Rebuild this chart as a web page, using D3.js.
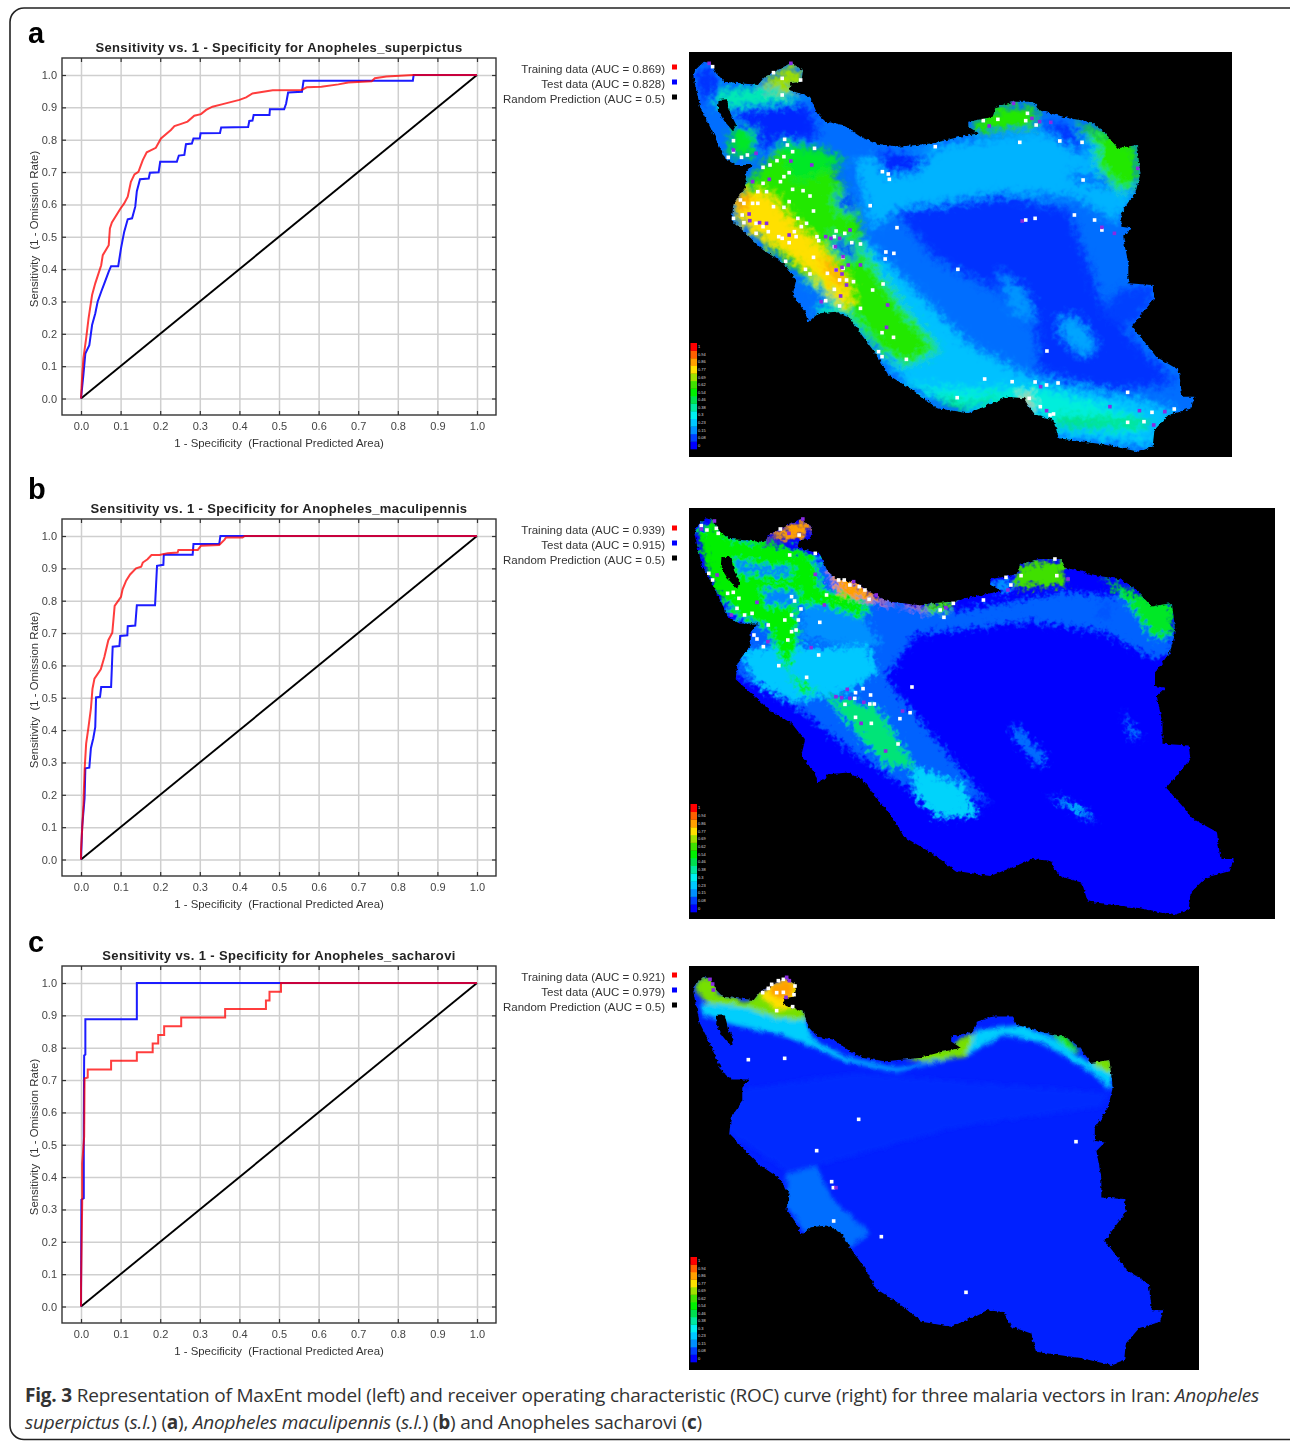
<!DOCTYPE html>
<meta charset="utf-8">

<body style="margin:0;background:#fff">
    <!-- Load d3.js -->
    <script src="https://d3js.org/d3.v7.min.js"></script>

    <div id="fig"></div>

    <script>
        // ROC curves: [1 - specificity, sensitivity]
        const trainA = [[0,0],[.003,.072],[.006,.124],[.013,.186],[.019,.247],[.028,.32],[.036,.356],[.051,.412],[.055,.443],[.07,.474],[.073,.526],[.078,.544],[.099,.586],[.109,.603],[.118,.624],[.126,.67],[.135,.693],[.145,.701],[.156,.737],[.166,.761],[.189,.775],[.202,.804],[.227,.83],[.236,.842],[.253,.849],[.269,.856],[.286,.874],[.303,.879],[.316,.892],[.332,.902],[.358,.91],[.4,.923],[.417,.931],[.433,.943],[.484,.953],[.557,.954],[.57,.962],[.607,.964],[.65,.971],[.675,.977],[.734,.981],[.742,.99],[.771,.995],[.838,1],[1,1]]
        const testA = [[0,0],[.006,.072],[.011,.139],[.021,.165],[.028,.227],[.036,.263],[.042,.299],[.051,.33],[.059,.356],[.07,.392],[.076,.409],[.094,.409],[.101,.464],[.109,.515],[.118,.554],[.129,.557],[.137,.593],[.141,.641],[.149,.678],[.171,.68],[.174,.698],[.196,.699],[.2,.732],[.242,.732],[.247,.751],[.261,.753],[.265,.786],[.28,.788],[.284,.804],[.3,.804],[.302,.82],[.351,.821],[.354,.838],[.422,.839],[.425,.858],[.433,.859],[.436,.876],[.476,.876],[.477,.894],[.513,.894],[.518,.912],[.523,.946],[.558,.948],[.562,.982],[.838,.982],[.84,1],[1,1]]
        const trainB = [[0,0],[0,.029],[.003,.096],[.006,.168],[.009,.276],[.013,.358],[.019,.41],[.025,.466],[.029,.528],[.034,.559],[.05,.588],[.059,.626],[.069,.678],[.079,.701],[.085,.784],[.101,.812],[.105,.835],[.114,.862],[.124,.881],[.139,.9],[.152,.905],[.156,.918],[.168,.928],[.178,.941],[.198,.941],[.219,.947],[.244,.949],[.246,.957],[.295,.957],[.303,.97],[.349,.972],[.362,.988],[.366,.995],[.408,.995],[.413,1],[1,1]]
        const testB = [[0,0],[.003,.101],[.009,.189],[.011,.282],[.021,.284],[.025,.344],[.031,.375],[.036,.409],[.038,.501],[.048,.503],[.051,.533],[.076,.533],[.08,.658],[.097,.66],[.099,.691],[.117,.693],[.118,.721],[.137,.723],[.141,.786],[.187,.786],[.192,.908],[.208,.911],[.209,.942],[.282,.942],[.284,.975],[.349,.975],[.352,1],[1,1]]
        const trainC = [[0,0],[0,.057],[.003,.32],[.003,.443],[.008,.526],[.009,.705],[.017,.708],[.017,.733],[.076,.733],[.076,.76],[.141,.76],[.141,.786],[.181,.786],[.181,.813],[.195,.813],[.195,.839],[.21,.839],[.21,.866],[.253,.866],[.253,.893],[.364,.893],[.364,.92],[.467,.92],[.467,.946],[.476,.946],[.476,.973],[.505,.973],[.505,1],[1,1]]
        const testC = [[0,0],[.001,.33],[.007,.335],[.007,.552],[.008,.776],[.011,.779],[.011,.888],[.141,.888],[.141,1],[1,1]]
        const randomLine = [[0,0],[1,1]]

        const xTicks = [0,.1,.2,.3,.4,.5,.6,.7,.8,.9,1]
        const yTicks = [0,.1,.2,.3,.4,.5,.6,.7,.8,.9,1]
        const speciesNames = ["Anopheles_superpictus", "Anopheles_maculipennis", "Anopheles_sacharovi"]
        const panelLetters = ["a", "b", "c"]
        const aucTrain = ["0.869", "0.939", "0.921"]
        const aucTest = ["0.828", "0.915", "0.979"]

        // map legend
        const legendValues = [0,.08,.15,.23,.3,.38,.46,.54,.62,.69,.77,.86,.94,1]
        const legendLabels = ["0","0.08","0.15","0.23","0.3","0.38","0.46","0.54","0.62","0.69","0.77","0.86","0.94","1"]
        const legendColors = ["#0000ff","#0040ff","#0090ff","#00c8ff","#00f0f0","#00e8a0","#00e050","#00f000","#40e000","#a0e000","#ffe000","#ffa000","#ff6000","#ff0000"]

        // Iran outline in crop units of the first map
        const iranOutline = [[40,35],[60,40],[75,70],[100,95],[195,105],[215,80],[270,50],[290,38],[325,60],[320,95],[290,100],[285,120],[345,140],[365,190],[390,215],[440,225],[490,260],[530,280],[600,290],[700,280],[770,262],[830,250],[800,230],[800,215],[870,200],[880,170],[930,155],[990,155],[1000,180],[1090,205],[1150,215],[1190,245],[1230,295],[1285,285],[1295,370],[1280,430],[1240,490],[1240,530],[1270,535],[1245,560],[1260,640],[1260,700],[1330,705],[1335,745],[1270,830],[1310,880],[1340,920],[1405,960],[1415,1040],[1450,1040],[1440,1075],[1375,1095],[1335,1140],[1330,1190],[1290,1205],[1200,1185],[1060,1165],[1045,1110],[985,1090],[960,1045],[910,1040],[870,1060],[800,1090],[710,1075],[640,1020],[570,975],[540,920],[490,850],[460,805],[420,785],[370,790],[340,815],[330,785],[295,735],[305,690],[270,640],[210,600],[160,550],[120,510],[125,460],[160,410],[160,370],[180,345],[130,345],[100,325],[80,280],[55,225],[30,175],[18,120],[10,80],[15,60]]
        const urmiaLake = [[82,150],[106,148],[116,190],[133,225],[123,243],[98,212],[80,180]]

        // suitability patches [value, polygon] per map, crop units of that map
        const heatA = [
            [.2, [[470,330],[700,290],[1000,240],[1280,300],[1280,420],[1230,520],[1100,440],[900,430],[600,480],[520,540]]],
            [.22, [[470,540],[620,690],[800,880],[1000,990],[1300,1050],[1400,1080],[1330,1190],[1060,1165],[985,1090],[800,1090],[640,1020],[490,850],[300,650]]],
            [.32, [[600,1000],[800,1020],[1000,1010],[1300,1100],[1300,1150],[1060,1130],[950,1060],[800,1070]]],
            [.06, [[590,480],[900,440],[1090,480],[1130,600],[1180,750],[1300,900],[1400,1000],[1200,1020],[1000,960],[1000,850],[880,720],[700,620]]],
            [.08, [[1230,720],[1330,705],[1335,745],[1270,830],[1180,800]]],
            [.18, [[1060,800],[1120,810],[1170,890],[1130,920],[1070,860]]],
            [.16, [[880,660],[960,720],[1000,820],[930,790]]],
            [.05, [[130,170],[340,160],[370,260],[260,280],[210,300],[120,180]]],
            [.05, [[530,310],[700,310],[640,370],[560,370]]],
            [.06, [[10,70],[60,50],[90,130],[40,160]]],
            [.12, [[295,700],[370,690],[420,780],[340,810],[300,750]]],
            [.36, [[360,780],[420,760],[440,800],[380,805]]],
            [.36, [[80,120],[200,110],[340,150],[130,175],[70,170]]],
            [.58, [[130,440],[250,300],[400,350],[480,470],[500,600],[620,780],[720,900],[620,950],[540,900],[470,810],[280,640],[130,510]]],
            [.5, [[120,230],[190,240],[185,320],[110,320]]],
            [.5, [[250,270],[390,300],[450,340],[300,400]]],
            [.77, [[120,470],[160,420],[230,430],[300,520],[380,590],[450,680],[470,760],[440,770],[360,680],[280,610],[150,530]]],
            [.86, [[125,450],[160,420],[175,450],[150,490]]],
            [.86, [[370,620],[410,640],[450,700],[420,700]]],
            [.06, [[420,430],[470,440],[470,490],[430,480]]],
            [.08, [[400,560],[470,580],[480,630],[430,610]]],
            [.58, [[810,220],[880,170],[990,170],[1000,230],[820,250]]],
            [.06, [[1000,225],[1090,225],[1150,320],[1090,290]]],
            [.06, [[1095,365],[1220,395],[1200,410],[1095,385]]],
            [.58, [[1100,210],[1190,250],[1285,290],[1290,400],[1240,430],[1170,350],[1170,290]]],
            [.69, [[200,100],[290,45],[325,65],[320,95],[280,130],[220,110]]],
            [.86, [[950,1030],[975,1040],[985,1085],[965,1060]]],
            [.44, [[1050,1100],[1330,1110],[1320,1130],[1060,1130]]],
            [.44, [[700,1040],[800,1060],[900,1030],[860,1060],[760,1080]]]
        ]
        const heatB = [
            [.11, [[20,60],[340,150],[500,280],[700,320],[1000,260],[1280,290],[1285,450],[1230,460],[1100,380],[900,350],[600,390],[520,520],[650,700],[800,900],[720,860],[620,880],[430,740],[300,620],[120,510],[130,440],[160,380],[100,330]]],
            [.23, [[130,440],[240,420],[340,430],[470,420],[500,500],[420,560],[280,590],[180,540]]],
            [.25, [[590,780],[720,840],[770,930],[660,940],[600,880]]],
            [.25, [[950,870],[1030,900],[1080,950],[1040,930]]],
            [.12, [[860,650],[950,760],[930,790],[860,700]]],
            [.13, [[1150,620],[1200,700],[1170,700]]],
            [.15, [[300,280],[460,340],[510,420],[420,420],[300,400]]],
            [.54, [[20,80],[60,45],[110,100],[200,110],[330,150],[350,250],[480,300],[460,340],[350,300],[280,300],[290,400],[260,500],[340,560],[300,570],[250,480],[200,360],[130,340],[60,250],[40,170]]],
            [.14, [[120,165],[210,185],[280,190],[260,215],[130,205]]],
            [.14, [[195,250],[290,260],[270,300],[200,300]]],
            [.42, [[360,570],[500,610],[560,720],[600,790],[520,780],[440,680]]],
            [.62, [[620,300],[700,285],[690,320],[630,320]]],
            [.62, [[870,180],[990,165],[1000,240],[860,250]]],
            [.5, [[1090,210],[1190,270],[1285,295],[1285,390],[1230,400],[1170,300]]],
            [.1, [[1090,290],[1130,300],[1110,350],[1080,340]]],
            [.15, [[800,225],[860,225],[850,260],[810,260]]],
            [.86, [[200,100],[250,70],[300,45],[320,65],[300,100],[240,100]]],
            [.86, [[370,200],[470,250],[500,280],[640,320],[600,300],[500,290],[400,270]]]
        ]
        const heatC = [
            [.055, [[60,400],[500,340],[1260,400],[1230,440],[800,500],[300,640],[120,520]]],
            [.12, [[290,640],[380,620],[430,720],[540,820],[480,860],[420,820],[350,820],[290,740]]],
            [.24, [[30,130],[190,140],[340,170],[370,240],[480,295],[620,325],[800,290],[860,210],[1000,195],[1100,240],[1200,310],[1265,330],[1265,390],[1200,335],[1060,250],[940,225],[830,285],[620,335],[470,305],[340,250],[270,225],[130,195],[40,165]]],
            [.66, [[30,50],[70,55],[85,100],[170,125],[210,95],[325,65],[350,180],[260,175],[180,145],[50,130],[15,90]]],
            [.66, [[640,290],[720,265],[790,262],[810,235],[855,220],[825,290],[700,305]]],
            [.58, [[1070,210],[1130,230],[1175,280],[1130,265]]],
            [.66, [[1200,295],[1265,295],[1270,345],[1210,315]]],
            [.77, [[210,100],[240,75],[290,55],[315,70],[320,110],[310,140],[260,150],[220,115]]],
            [.86, [[235,85],[290,60],[312,80],[300,115],[260,115]]]
        ]

        // occurrence points per map, crop units
        const trainPtsA = [[65,50],[240,68],[265,85],[318,90],[265,135],[125,272],[125,305],[110,322],[148,322],[165,315],[210,352],[230,345],[250,332],[270,320],[272,268],[280,285],[295,305],[358,295],[285,368],[270,380],[260,395],[210,400],[195,425],[220,425],[345,438],[325,422],[295,418],[285,455],[145,450],[155,460],[180,460],[195,460],[240,470],[270,472],[150,495],[125,505],[155,518],[190,520],[210,530],[225,545],[190,550],[255,560],[285,578],[265,565],[310,505],[335,520],[320,530],[300,545],[305,560],[355,483],[365,560],[370,572],[420,543],[415,560],[445,550],[465,578],[490,582],[415,590],[440,622],[275,634],[355,622],[332,658],[345,672],[395,670],[420,660],[440,655],[430,690],[450,690],[470,695],[415,718],[525,720],[555,702],[390,752],[430,768],[490,775],[552,848],[585,862],[542,905],[552,920],[622,928],[553,365],[570,372],[573,388],[705,290],[885,208],[843,212],[948,277],[965,212],[970,190],[995,225],[1063,273],[1127,277],[1130,390],[518,467],[595,533],[563,606],[586,610],[561,627],[770,658],[992,505],[965,510],[1105,495],[1163,510],[1184,540],[1026,903],[847,987],[926,995],[992,996],[1025,1005],[1058,999],[1258,1027],[768,1043],[975,1045],[1007,1070],[1045,1092],[1035,1095],[1328,1087],[1258,1117],[1305,1115],[1392,1077]]
        const testPtsA = [[55,40],[290,40],[125,300],[190,310],[290,333],[350,345],[228,388],[180,395],[170,492],[172,512],[200,518],[220,520],[285,555],[390,560],[405,565],[430,565],[418,590],[460,540],[440,620],[455,645],[490,645],[420,660],[437,652],[437,672],[450,705],[433,738],[377,755],[568,765],[565,832],[930,160],[860,228],[983,205],[1005,215],[1037,217],[1287,355],[955,513],[1184,532],[1220,550],[1008,1010],[1025,1082],[1207,1070],[1292,1082],[1365,1085],[1333,1125]]
        const trainPtsB = [[30,62],[45,75],[70,70],[75,85],[50,205],[60,225],[240,72],[265,150],[290,90],[333,145],[395,225],[410,225],[450,245],[465,255],[425,240],[100,265],[115,262],[130,280],[125,310],[145,330],[165,325],[270,275],[278,288],[295,312],[270,330],[288,345],[252,345],[208,360],[345,352],[282,375],[270,380],[260,405],[170,390],[178,402],[195,425],[236,482],[310,517],[342,450],[363,270],[476,283],[675,337],[665,315],[700,295],[780,285],[840,217],[880,212],[853,240],[970,162],[975,212],[460,551],[480,570],[440,563],[438,580],[412,598],[478,597],[490,597],[590,546],[585,623],[558,641],[440,637],[482,655],[553,717]]
        const testPtsB = [[65,48],[300,42],[30,72],[72,210],[263,85],[435,230],[495,270],[178,292],[110,330],[357,300],[333,208],[680,308],[845,255],[1005,222],[207,410],[322,428],[418,553],[403,578],[425,580],[462,592],[388,575],[565,618],[455,655],[520,738]]
        const trainPtsC = [[175,299],[284,295],[506,478],[380,572],[425,665],[431,783],[574,830],[1158,545],[828,997],[245,73],[265,62],[280,58],[235,85],[218,98],[260,98],[315,78],[280,97],[312,104],[260,152],[308,140],[430,683]]
        const testPtsC = [[60,58],[68,72],[70,90],[290,52],[298,62],[288,112],[438,683]]

        const W = 1290, H = 1441

        var svg = d3.select("div#fig")
            .append("svg")
            .attr("width", W)
            .attr("height", H)
            .style("display", "block")
            .style("font-family", "'Liberation Sans', Arial, sans-serif")

        // rounded page frame, runs off the right and bottom edges
        svg.append("rect")
            .attr("x", 10).attr("y", 8)
            .attr("width", 1300).attr("height", 1431.5)
            .attr("rx", 14)
            .attr("fill", "none")
            .attr("stroke", "#222")
            .attr("stroke-width", 1.6)

        var defs = svg.append("defs")

        // slight softness of the scanned figure
        defs.append("filter").attr("id", "scan")
            .append("feGaussianBlur").attr("stdDeviation", 0.35)

        // rough raster look: blur the patches, then shake them with noise
        function roughFilter(id, blur, freq, amount) {
            var f = defs.append("filter").attr("id", id)
                .attr("filterUnits", "userSpaceOnUse")
                .attr("x", 680).attr("y", 40).attr("width", 610).attr("height", 1340)
            f.append("feGaussianBlur").attr("in", "SourceGraphic").attr("stdDeviation", blur).attr("result", "b")
            f.append("feTurbulence").attr("type", "fractalNoise").attr("baseFrequency", freq).attr("numOctaves", 2).attr("seed", 4).attr("result", "n")
            f.append("feDisplacementMap").attr("in", "b").attr("in2", "n").attr("scale", amount)
                .attr("xChannelSelector", "R").attr("yChannelSelector", "G")
        }
        roughFilter("roughA", 4, 0.16, 16)
        roughFilter("roughB", 2.4, 0.2, 18)
        roughFilter("roughC", 2, 0.1, 5)
        roughFilter("edge", 0.3, 0.3, 4)

        function drawRoc(i, top, letterY, train, test) {
            const x = d3.scaleLinear().domain([0, 1]).range([81, 477])
            const y = d3.scaleLinear().domain([0, 1]).range([top + 340.5, top + 17])
            const left = 62, right = 496, bottom = top + 357

            var g = svg.append("g").attr("filter", "url(#scan)")

            g.append("text")
                .attr("x", 279).attr("y", top - 6)
                .attr("text-anchor", "middle")
                .attr("font-size", 13).attr("font-weight", "bold")
                .attr("letter-spacing", 0.38)
                .attr("fill", "#222")
                .text("Sensitivity vs. 1 - Specificity for " + speciesNames[i])

            g.append("rect")
                .attr("x", left).attr("y", top)
                .attr("width", right - left).attr("height", bottom - top)
                .attr("fill", "#fff")

            // grid
            g.append("g").attr("transform", `translate(0,${bottom})`)
                .call(d3.axisBottom(x).tickValues(xTicks).tickSize(top - bottom).tickFormat(""))
                .call(s => s.select(".domain").remove())
                .selectAll("line").attr("stroke", "#cfcfcf").attr("stroke-width", 1.5)
            g.append("g").attr("transform", `translate(${left},0)`)
                .call(d3.axisLeft(y).tickValues(yTicks).tickSize(left - right).tickFormat(""))
                .call(s => s.select(".domain").remove())
                .selectAll("line").attr("stroke", "#cfcfcf").attr("stroke-width", 1.5)

            // tick labels outside the frame, tick marks inside
            var xAxis = g.append("g").attr("transform", `translate(0,${bottom})`)
                .call(d3.axisBottom(x).tickValues(xTicks).tickSizeInner(-4).tickSizeOuter(0).tickPadding(7).tickFormat(d3.format(".1f")))
            xAxis.select(".domain").remove()
            xAxis.selectAll("line").attr("stroke", "#333").attr("stroke-width", 1.2)
            xAxis.selectAll("text").attr("font-size", 11).attr("fill", "#444").attr("font-family", "'Liberation Sans', Arial, sans-serif")

            var xTop = g.append("g").attr("transform", `translate(0,${top})`)
                .call(d3.axisTop(x).tickValues(xTicks).tickSizeInner(-4).tickSizeOuter(0).tickFormat(""))
            xTop.select(".domain").remove()
            xTop.selectAll("line").attr("stroke", "#333").attr("stroke-width", 1.2)

            var yAxis = g.append("g").attr("transform", `translate(${left},0)`)
                .call(d3.axisLeft(y).tickValues(yTicks).tickSizeInner(-4).tickSizeOuter(0).tickPadding(5).tickFormat(d3.format(".1f")))
            yAxis.select(".domain").remove()
            yAxis.selectAll("line").attr("stroke", "#333").attr("stroke-width", 1.2)
            yAxis.selectAll("text").attr("font-size", 11).attr("fill", "#444").attr("font-family", "'Liberation Sans', Arial, sans-serif")

            var yRight = g.append("g").attr("transform", `translate(${right},0)`)
                .call(d3.axisRight(y).tickValues(yTicks).tickSizeInner(-4).tickSizeOuter(0).tickFormat(""))
            yRight.select(".domain").remove()
            yRight.selectAll("line").attr("stroke", "#333").attr("stroke-width", 1.2)

            g.append("text")
                .attr("x", 279).attr("y", top + 389)
                .attr("text-anchor", "middle")
                .attr("font-size", 11.4).attr("fill", "#333")
                .text("1 - Specificity  (Fractional Predicted Area)")
                .style("white-space", "pre")
            g.append("text")
                .attr("transform", `translate(38,${top + 171}) rotate(-90)`)
                .attr("text-anchor", "middle")
                .attr("font-size", 11.4).attr("fill", "#333")
                .text("Sensitivity  (1 - Omission Rate)")
                .style("white-space", "pre")

            var line = d3.line().x(d => x(d[0])).y(d => y(d[1]))

            g.append("path").datum(randomLine).attr("d", line)
                .attr("fill", "none").attr("stroke", "#000").attr("stroke-width", 1.9)
            g.append("path").datum(test).attr("d", line)
                .attr("fill", "none").attr("stroke", "#1a1aff").attr("stroke-width", 2)
            g.append("path").datum(train).attr("d", line)
                .attr("fill", "none").attr("stroke", "#ff0000").attr("stroke-opacity", 0.76).attr("stroke-width", 2)

            g.append("rect")
                .attr("x", left).attr("y", top)
                .attr("width", right - left).attr("height", bottom - top)
                .attr("fill", "none").attr("stroke", "#333").attr("stroke-width", 1.4)

            // legend beside the plot
            const legendRows = [
                ["Training data (AUC = " + aucTrain[i] + ")", "#ff0000"],
                ["Test data (AUC = " + aucTest[i] + ")", "#0000ff"],
                ["Random Prediction (AUC = 0.5)", "#000000"]
            ]
            legendRows.forEach(function (d, k) {
                g.append("text")
                    .attr("x", 665).attr("y", top + 15 + k * 15)
                    .attr("text-anchor", "end")
                    .attr("font-size", 11.5).attr("fill", "#333")
                    .text(d[0])
                g.append("rect")
                    .attr("x", 672).attr("y", top + 6.5 + k * 15)
                    .attr("width", 5).attr("height", 5)
                    .attr("fill", d[1])
            })

            // panel letter
            g.append("text")
                .attr("x", 28).attr("y", letterY)
                .attr("font-size", 29).attr("font-weight", "bold")
                .attr("fill", "#000")
                .text(panelLetters[i])
        }

        const heatColor = d3.scaleLinear().domain(legendValues).range(legendColors)

        function drawMap(id, box, cropTop, cropWidth, outlineBox, baseValue, heat, trainPts, testPts, legendTop, legendBottom) {
            // crop units -> page
            const sx = d3.scaleLinear().domain([0, cropWidth]).range([690, box[2]])
            const sy = d3.scaleLinear().domain([0, 3]).range([cropTop, cropTop + 1])
            // outline units -> crop units of this map
            const ox = d3.scaleLinear().domain([10, 1450]).range([outlineBox[0], outlineBox[1]])
            const oy = d3.scaleLinear().domain([35, 1205]).range([outlineBox[2], outlineBox[3]])

            var g = svg.append("g")
            g.append("rect")
                .attr("x", box[0]).attr("y", box[1])
                .attr("width", box[2] - box[0]).attr("height", box[3] - box[1])
                .attr("fill", "#000")

            var shape = d3.line().x(d => sx(ox(d[0]))).y(d => sy(oy(d[1]))).curve(d3.curveLinearClosed)
            var poly = d3.line().x(d => sx(d[0])).y(d => sy(d[1])).curve(d3.curveLinearClosed)

            // country mask with rough edges, lake cut out
            var mask = defs.append("mask").attr("id", "iran" + id)
                .attr("maskUnits", "userSpaceOnUse")
                .attr("x", box[0]).attr("y", box[1])
                .attr("width", box[2] - box[0]).attr("height", box[3] - box[1])
            var maskG = mask.append("g").attr("filter", "url(#edge)")
            maskG.append("path").attr("d", shape(iranOutline)).attr("fill", "#fff")
            maskG.append("path").attr("d", shape(urmiaLake)).attr("fill", "#000")

            var land = g.append("g").attr("mask", `url(#iran${id})`)
            land.append("rect")
                .attr("x", box[0]).attr("y", box[1])
                .attr("width", box[2] - box[0]).attr("height", box[3] - box[1])
                .attr("fill", heatColor(baseValue))
            land.append("g").attr("filter", `url(#rough${id})`)
                .selectAll("path").data(heat).join("path")
                .attr("d", d => poly(d[1]))
                .attr("fill", d => heatColor(d[0]))

            // occurrence squares
            const r = 1.8
            g.selectAll(".train").data(trainPts).join("rect")
                .attr("x", d => sx(d[0]) - r).attr("y", d => sy(d[1]) - r)
                .attr("width", 2 * r).attr("height", 2 * r).attr("fill", "#fff")
            g.selectAll(".test").data(testPts).join("rect")
                .attr("x", d => sx(d[0]) - r).attr("y", d => sy(d[1]) - r)
                .attr("width", 2 * r).attr("height", 2 * r).attr("fill", "#8a2be2")

            // colour key
            const ky = d3.scaleBand().domain(d3.range(legendValues.length)).range([legendBottom, legendTop])
            g.selectAll(".key").data(legendValues).join("rect")
                .attr("x", box[0] + 1.5).attr("y", (d, k) => ky(k))
                .attr("width", 6.5).attr("height", ky.bandwidth() + 0.3)
                .attr("fill", d => heatColor(d))
            g.selectAll(".keylab").data(legendLabels).join("text")
                .attr("x", box[0] + 9).attr("y", (d, k) => ky(k) + ky.bandwidth() / 2 + 1.5)
                .attr("font-size", 4).attr("fill", "#ddd")
                .text(d => d)
        }

        drawRoc(0, 58, 43, trainA, testA)
        drawRoc(1, 519, 499, trainB, testB)
        drawRoc(2, 966, 952, trainC, testC)

        drawMap("A", [689, 52, 1232, 457], 50, 1558, [10, 1450, 35, 1205], .12, heatA, trainPtsA, testPtsA, 343, 449)
        drawMap("B", [689, 508, 1275, 919], 505, 1555, [12, 1445, 40, 1230], 0, heatB, trainPtsB, testPtsB, 804, 912)
        drawMap("C", [689, 966, 1199, 1370], 960, 1527, [10, 1420, 50, 1215], .04, heatC, trainPtsC, testPtsC, 1257, 1362)

        // caption
        var capFont = "'Open Sans', 'Noto Sans', sans-serif"

        // stretch a caption line to its measured width with letter spacing
        function fitLine(text, target) {
            var n = text.text().length
            var natural = text.node().getComputedTextLength()
            text.attr("letter-spacing", (target - natural) / n)
        }

        var cap1 = svg.append("text").attr("x", 25).attr("y", 1402)
            .attr("font-family", capFont).attr("font-size", 19).attr("fill", "#333")
        cap1.append("tspan").attr("font-weight", "bold").text("Fig. 3")
        cap1.append("tspan").text(" Representation of MaxEnt model (left) and receiver operating characteristic (ROC) curve (right) for three malaria vectors in Iran: ")
        cap1.append("tspan").attr("font-style", "italic").text("Anopheles")
        fitLine(cap1, 1234)

        var cap2 = svg.append("text").attr("x", 25).attr("y", 1429)
            .attr("font-family", capFont).attr("font-size", 19).attr("fill", "#333")
        cap2.append("tspan").attr("font-style", "italic").text("superpictus")
        cap2.append("tspan").text(" (")
        cap2.append("tspan").attr("font-style", "italic").text("s.l.")
        cap2.append("tspan").text(") (")
        cap2.append("tspan").attr("font-weight", "bold").text("a")
        cap2.append("tspan").text("), ")
        cap2.append("tspan").attr("font-style", "italic").text("Anopheles maculipennis")
        cap2.append("tspan").text(" (")
        cap2.append("tspan").attr("font-style", "italic").text("s.l.")
        cap2.append("tspan").text(") (")
        cap2.append("tspan").attr("font-weight", "bold").text("b")
        cap2.append("tspan").text(") and Anopheles sacharovi (")
        cap2.append("tspan").attr("font-weight", "bold").text("c")
        cap2.append("tspan").text(")")
        fitLine(cap2, 677)
    </script>
</body>
